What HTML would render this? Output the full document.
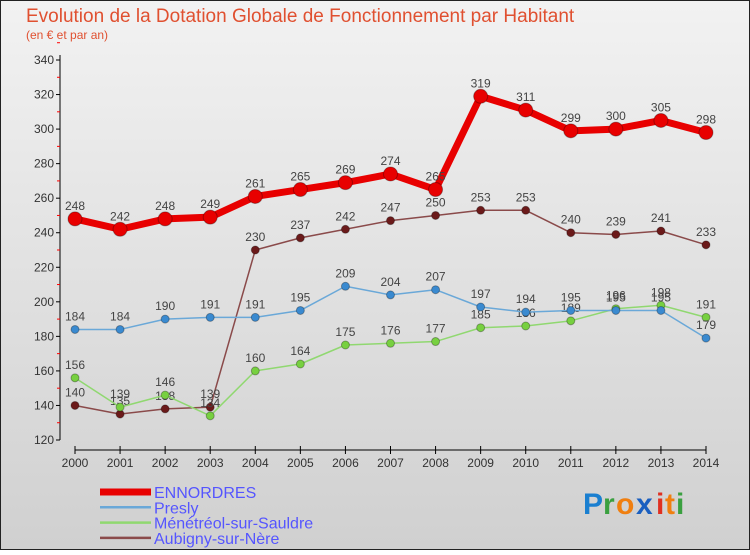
<!DOCTYPE html>
<html><head><meta charset="utf-8"><style>
html,body{margin:0;padding:0}
body{width:750px;height:550px;overflow:hidden;font-family:"Liberation Sans",sans-serif}
</style></head><body>
<svg id="c" width="750" height="550" xmlns="http://www.w3.org/2000/svg">
<defs><linearGradient id="bg" x1="0" y1="0" x2="0" y2="1"><stop offset="0" stop-color="#f2f2f2"/><stop offset="1" stop-color="#d0d0d0"/></linearGradient></defs>
<rect x="0.5" y="0.5" width="749" height="549" fill="url(#bg)" stroke="#222"/>
<text x="26" y="22" font-size="19" fill="#e05030">Evolution de la Dotation Globale de Fonctionnement par Habitant</text>
<text x="26" y="39" font-size="12" fill="#e05030">(en € et par an)</text>
<g id="axes"></g><g id="series"></g><g id="legend"></g>
<g font-size="30" font-weight="bold" font-family="Liberation Sans, sans-serif">
<text x="583" y="514" fill="#1a7fd0">P</text><text x="603" y="514" fill="#3aa040">r</text><text x="616" y="514" fill="#f07f10">o</text><text x="636" y="514" fill="#1a5fc0">x</text><text x="656" y="514" fill="#e03020">i</text><text x="665" y="514" fill="#f07f10">t</text><text x="676" y="514" fill="#3aa040">i</text></g>
</svg>
<script>
const years=["2000","2001","2002","2003","2004","2005","2006","2007","2008","2009","2010","2011","2012","2013","2014"];
const ennordres=[248,242,248,249,261,265,269,274,265,319,311,299,300,305,298];
const presly=[184,184,190,191,191,195,209,204,207,197,194,195,195,195,179];
const menetreol=[156,139,146,134,160,164,175,176,177,185,186,189,196,198,191];
const aubigny=[140,135,138,139,230,237,242,247,250,253,253,240,239,241,233];
const yTicks=[120,140,160,180,200,220,240,260,280,300,320,340];
const NS="http://www.w3.org/2000/svg";
const xs=i=>75+i*(706-75)/(years.length-1);
const ys=v=>440-(v-120)*380/220;
function mk(t,a,p){const e=document.createElementNS(NS,t);for(const k in a)e.setAttribute(k,a[k]);p.appendChild(e);return e;}
const ax=document.getElementById('axes');
let l=mk('line',{x1:60,y1:55,x2:60,y2:440,stroke:'#000'},ax);


l=mk('line',{x1:75,y1:450,x2:706,y2:450,stroke:'#000'},ax);


yTicks.forEach(v=>{const y=ys(v);mk('line',{x1:56,y1:y,x2:60,y2:y,stroke:'#000'},ax);
 mk('line',{x1:57,y1:ys(v+10),x2:60,y2:ys(v+10),stroke:'#f00'},ax);
 const t=mk('text',{x:54,y:y+4,'text-anchor':'end','font-size':12,fill:'#333'},ax);t.textContent=v;
 
 });
years.forEach((yr,i)=>{const x=xs(i);mk('line',{x1:x,y1:446,x2:x,y2:454,stroke:'#000'},ax);
 const t=mk('text',{x:x,y:467,'text-anchor':'middle','font-size':12,fill:'#333'},ax);t.textContent=yr;
 
 });
const S=document.getElementById('series');
const defs=[
 {n:'aubigny',d:aubigny,c:'#6b1a1a',lc:'#8a4a4a',w:1.5,r:4},
 {n:'menetreol',d:menetreol,c:'#77d040',lc:'#90d870',w:1.5,r:4},
 {n:'presly',d:presly,c:'#3a8ad0',lc:'#6aa8d8',w:1.5,r:4},
 {n:'ennordres',d:ennordres,c:'#e80000',lc:'#e80000',w:7,r:7}];
defs.forEach(s=>{const g=mk('g',{},S);
 
 
 const p=mk('polyline',{points:s.d.map((v,i)=>xs(i)+','+ys(v)).join(' '),fill:'none',stroke:s.lc,'stroke-width':s.w,'stroke-linejoin':'round'},g);
 
 
 s.d.forEach((v,i)=>{const c=mk('circle',{cx:xs(i),cy:ys(v),r:s.r,fill:s.c,stroke:'rgba(0,0,0,0.3)'},g);
  
  
  const t=mk('text',{x:xs(i),y:ys(v)-9,'text-anchor':'middle','font-size':12,fill:'#444'},g);t.textContent=v;
  
  });});
const L=document.getElementById('legend');
[['ENNORDRES','#e80000',7],['Presly','#6aa8d8',2.5],['Ménétréol-sur-Sauldre','#90d870',2.5],['Aubigny-sur-Nère','#8a4a4a',2.5]].forEach((e,i)=>{
 const y=492+i*15.3;const g=mk('g',{},L);
 
 
 mk('line',{x1:100,y1:y,x2:151,y2:y,stroke:e[1],'stroke-width':e[2]},g);
 const t=mk('text',{x:154,y:y+6,'font-size':16,fill:'#5555ff'},g);t.textContent=e[0];});
</script>
</body></html>
